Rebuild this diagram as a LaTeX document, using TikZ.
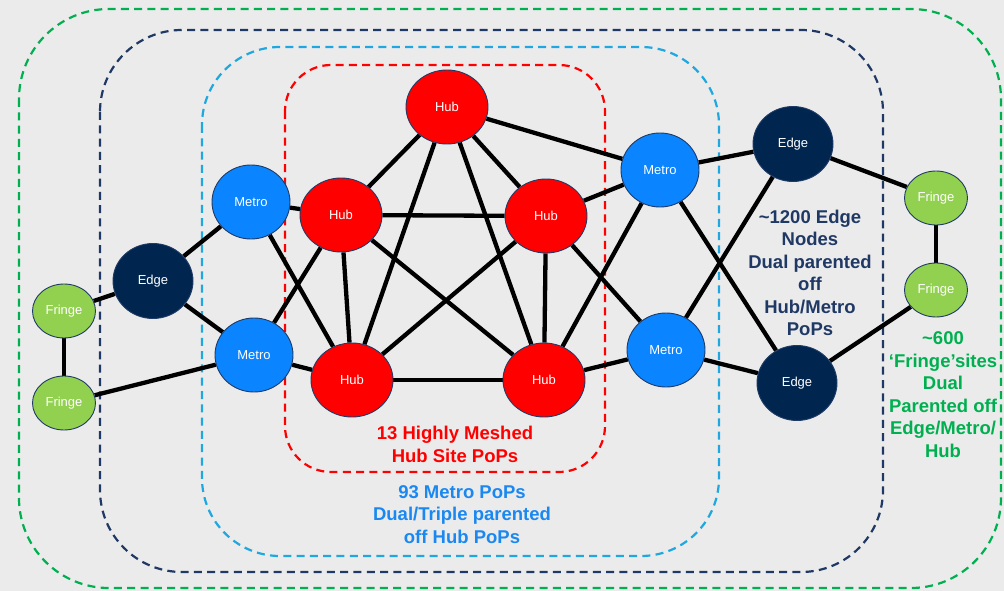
\documentclass[tikz,border=0pt]{standalone}
\usepackage{fontspec}
\setmainfont{Liberation Sans}
\usetikzlibrary{shapes.geometric}
\pgfdeclarelayer{back}
\pgfsetlayers{back,main}

\definecolor{bgc}{HTML}{EBEBEB}
\definecolor{hubred}{HTML}{FF0000}
\definecolor{metroblue}{HTML}{0A84FF}
\definecolor{edgenavy}{HTML}{00264F}
\definecolor{fringegreen}{HTML}{92D050}
\definecolor{rimc}{HTML}{1F3B66}
\definecolor{zonegreen}{HTML}{00B050}
\definecolor{zonenavy}{HTML}{1F3864}
\definecolor{zonecyan}{HTML}{1FA8E0}
\definecolor{txtblue}{HTML}{1A88F0}

\tikzset{
  popnode/.style={ellipse, draw=rimc, line width=0.9pt, inner sep=0pt,
    text=white, font=\fontsize{13}{15}\selectfont},
  hubn/.style={popnode, fill=hubred, minimum width=82pt, minimum height=74pt},
  metron/.style={popnode, fill=metroblue, minimum width=78pt, minimum height=74pt},
  edgen/.style={popnode, fill=edgenavy, minimum width=80pt, minimum height=75pt},
  fringen/.style={popnode, fill=fringegreen, minimum width=63pt, minimum height=54pt},
  link/.style={line width=4.3pt, black},
  zone/.style={line width=2.2pt, dash pattern=on 8pt off 5.3pt},
  caption/.style={align=center, font=\fontsize{18.5}{22.5}\selectfont\bfseries}
}

\begin{document}
\begin{tikzpicture}[x=1pt,y=-1pt]
  \useasboundingbox (0,0) rectangle (1004,591);

  % PoP nodes
  \node[hubn] (hubT)  at (447,107) {Hub};
  \node[hubn] (hubL)  at (341,215) {Hub};
  \node[hubn] (hubR)  at (546,216) {Hub};
  \node[hubn] (hubBL) at (352,380) {Hub};
  \node[hubn] (hubBR) at (544,380) {Hub};

  \node[metron] (metLT) at (251,202) {Metro};
  \node[metron] (metLB) at (254,355) {Metro};
  \node[metron] (metRT) at (660,170) {Metro};
  \node[metron] (metRB) at (666,350) {Metro};

  \node[edgen] (edgL)  at (153,281) {Edge};
  \node[edgen] (edgRT) at (793,144) {Edge};
  \node[edgen] (edgRB) at (797,383) {Edge};

  \node[fringen] (frLT) at (64,311) {Fringe};
  \node[fringen] (frLB) at (64,403) {Fringe};
  \node[fringen] (frRT) at (936,198) {Fringe};
  \node[fringen] (frRB) at (936,290) {Fringe};

  % captions
  \node[caption, text=hubred]     (capHub)    at (455,444.5) {13 Highly Meshed\\Hub Site PoPs};
  \node[caption, text=txtblue]    (capMetro)  at (462,514.5) {93 Metro PoPs\\Dual/Triple parented\\off Hub PoPs};
  \node[caption, text=zonenavy]   (capEdge)   at (810,273) {\textasciitilde1200 Edge\\Nodes\\Dual parented\\off\\Hub/Metro\\PoPs};
  \node[caption, text=zonegreen]  (capFringe) at (943,394.5) {\textasciitilde600\\‘Fringe’sites\\Dual\\Parented off\\Edge/Metro/\\Hub};

  \begin{pgfonlayer}{back}
    \fill[bgc] (0,0) rectangle (1004,591);

    % nested zones
    \draw[zone, zonegreen, rounded corners=90pt] (19,9) rectangle (1001,588);
    \draw[zone, zonenavy, rounded corners=82pt] (100,30) rectangle (883,572);
    \draw[zone, zonecyan, rounded corners=78pt] (202,47) rectangle (719,556);
    \draw[zone, hubred, rounded corners=46pt] (285,65) rectangle (605,472);

    % links
    \draw[link] (frLT) -- (edgL);
    \draw[link] (frLT) -- (frLB);
    \draw[link] (frLB) -- (metLB);
    \draw[link] (edgL) -- (metLT);
    \draw[link] (edgL) -- (metLB);
    \draw[link] (metLT) -- (hubL);
    \draw[link] (metLT) -- (hubBL);
    \draw[link] (metLB) -- (hubL);
    \draw[link] (metLB) -- (hubBL);
    \draw[link] (hubL) -- (hubT);
    \draw[link] (hubL) -- (hubR);
    \draw[link] (hubL) -- (hubBL);
    \draw[link] (hubL) -- (hubBR);
    \draw[link] (hubT) -- (hubBL);
    \draw[link] (hubT) -- (hubBR);
    \draw[link] (hubT) -- (hubR);
    \draw[link] (hubT) -- (metRT);
    \draw[link] (hubR) -- (hubBL);
    \draw[link] (hubR) -- (hubBR);
    \draw[link] (hubR) -- (metRT);
    \draw[link] (hubR) -- (metRB);
    \draw[link] (hubBL) -- (hubBR);
    \draw[link] (hubBR) -- (metRB);
    \draw[link] (hubBR) -- (metRT);
    \draw[link] (metRT) -- (edgRT);
    \draw[link] (metRT) -- (edgRB);
    \draw[link] (metRB) -- (edgRT);
    \draw[link] (metRB) -- (edgRB);
    \draw[link] (edgRT) -- (frRT);
    \draw[link] (frRT) -- (frRB);
    \draw[link] (edgRB) -- (frRB);
  \end{pgfonlayer}
\end{tikzpicture}
\end{document}
